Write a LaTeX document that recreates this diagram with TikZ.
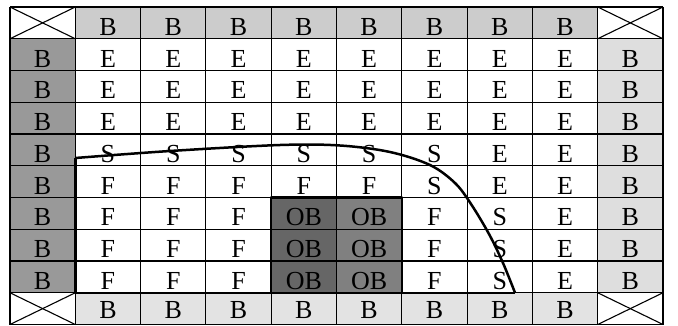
\documentclass[tikz,border=0pt]{standalone}
\usepackage{fontspec}
\setmainfont{Liberation Serif}
\begin{document}
\begin{tikzpicture}[x=1pt,y=-1pt,
  lbl/.style={anchor=base,font=\fontsize{26}{28}\selectfont,inner sep=0pt},
  gridline/.style={line width=1.1pt,black},
  bold line/.style={line width=2.5pt,black,line join=round},
]
\definecolor{leftB}{gray}{0.6}
\definecolor{topB}{gray}{0.8}
\definecolor{rightB}{gray}{0.87}
\definecolor{botB}{gray}{0.89}
\definecolor{obA}{gray}{0.4}
\definecolor{obB}{gray}{0.5}
\useasboundingbox (0,0) rectangle (678,325);
\def\cw{65.3}\def\rh{31.75}
% shaded border cells
\fill[topB] (10+\cw,7) rectangle (10+9*\cw,7+\rh);
\fill[botB] (10+\cw,7+9*\rh) rectangle (10+9*\cw,7+10*\rh);
\fill[leftB] (10,7+\rh) rectangle (10+\cw,7+9*\rh);
\fill[rightB] (10+9*\cw,7+\rh) rectangle (10+10*\cw,7+9*\rh);
\fill[obA] (10+4*\cw,7+6*\rh) rectangle (10+5*\cw,7+9*\rh);
\fill[obB] (10+5*\cw,7+6*\rh) rectangle (10+6*\cw,7+9*\rh);
% grid
\foreach \i in {0,...,10} {
  \draw[gridline] (10+\i*\cw,7) -- (10+\i*\cw,7+10*\rh);
  \draw[gridline] (10,7+\i*\rh) -- (10+10*\cw,7+\i*\rh);
}
% corner crosses
\foreach \i/\j in {0/0,9/0,0/9,9/9} {
  \draw[gridline] (10+\i*\cw,7+\j*\rh) -- (10+\i*\cw+\cw,7+\j*\rh+\rh);
  \draw[gridline] (10+\i*\cw+\cw,7+\j*\rh) -- (10+\i*\cw,7+\j*\rh+\rh);
}
% top and bottom rows
\foreach \i in {1,...,8} {
  \node[lbl] (t\i-0) at (10+\i*\cw+0.5*\cw,7+\rh-3.5) {B};
  \node[lbl] (t\i-9) at (10+\i*\cw+0.5*\cw,7+10*\rh-6.5) {B};
}
% inner rows
\foreach \j/\lst in {1/{B,E,E,E,E,E,E,E,E,B},
                    2/{B,E,E,E,E,E,E,E,E,B},
                    3/{B,E,E,E,E,E,E,E,E,B},
                    4/{B,S,S,S,S,S,S,E,E,B},
                    5/{B,F,F,F,F,F,S,E,E,B},
                    6/{B,F,F,F,OB,OB,F,S,E,B},
                    7/{B,F,F,F,OB,OB,F,S,E,B},
                    8/{B,F,F,F,OB,OB,F,S,E,B}} {
  \foreach \t [count=\i from 0] in \lst {
    \node[lbl] (t\i-\j) at (10+\i*\cw+0.5*\cw,7+\j*\rh+\rh-3.5) {\t};
  }
}
% thick boundaries
\coordinate (cs) at (10+\cw,158);
\coordinate (ce) at (515,7+9*\rh);
\coordinate (cb) at (10+\cw,7+9*\rh);
\draw[bold line] (10+4*\cw,7+6*\rh) rectangle (10+6*\cw,7+9*\rh);
\draw[bold line] plot[smooth,tension=0.55] coordinates {(cs) (170,151) (280,145) (340,145.5) (390,152) (430,165) (455,183) (471,204) (489,234) (503,263) (ce)};
\draw[bold line] (ce) -- (cb) -- (cs);
\end{tikzpicture}
\end{document}
